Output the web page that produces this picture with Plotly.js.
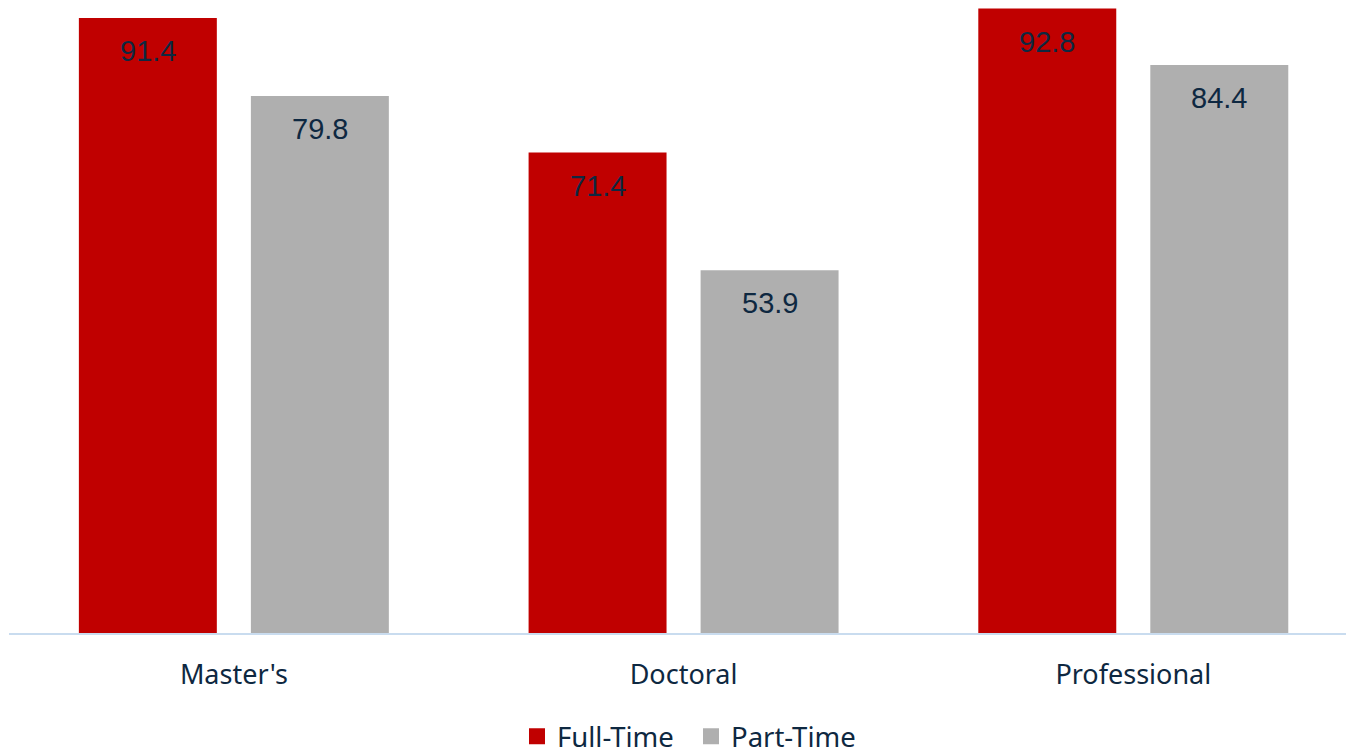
<!DOCTYPE html>
<html>
<head>
<meta charset="utf-8">
<script src="https://cdn.plot.ly/plotly-3.0.1.min.js"></script>
<style>html,body{margin:0;padding:0;background:#fff;}#chart{width:1346px;height:749px;}</style>
</head>
<body>
<div id="chart"></div>
<script>
const categories = ["Master's", "Doctoral", "Professional"];
const fullTime = [91.4, 71.4, 92.8];
const partTime = [79.8, 53.9, 84.4];
const seriesNames = ["Full-Time", "Part-Time"];
const seriesColors = ['#c00000', '#afafaf'];

const textColor = '#0e2841';
const bargap = 0.235;
const offset = (1 - bargap) / 4;

const traces = [
  {type: 'bar', name: seriesNames[0], x: categories, y: fullTime,
   marker: {color: seriesColors[0]}, showlegend: false},
  {type: 'bar', name: seriesNames[1], x: categories, y: partTime,
   marker: {color: seriesColors[1]}, showlegend: false},
  // legend entries with larger square swatches
  {type: 'scatter', mode: 'markers', name: seriesNames[0], x: [null], y: [null],
   marker: {symbol: 'square', size: 18, color: seriesColors[0]}},
  {type: 'scatter', mode: 'markers', name: seriesNames[1], x: [null], y: [null],
   marker: {symbol: 'square', size: 18, color: seriesColors[1]}}
];

const annotations = [];
[fullTime, partTime].forEach((vals, s) => {
  vals.forEach((v, i) => {
    annotations.push({
      x: i + (s === 0 ? -offset : offset), y: v, xref: 'x', yref: 'y',
      text: v.toFixed(1), showarrow: false, yanchor: 'middle', yshift: -33,
      font: {family: 'Liberation Sans, Arial, sans-serif', size: 29, color: textColor}
    });
  });
});

const layout = {
  width: 1346, height: 749,
  margin: {l: 9, r: 0, t: 0, b: 116},
  paper_bgcolor: '#ffffff', plot_bgcolor: '#ffffff',
  barmode: 'group', bargap: bargap, bargroupgap: 0.198,
  xaxis: {type: 'category', range: [-0.5, 2.473], showline: true, linecolor: '#c9dcef', linewidth: 2,
          ticks: '', showgrid: false, zeroline: false, automargin: false, ticklabelstandoff: 17,
          tickfont: {family: 'Noto Sans, sans-serif', size: 27, color: textColor}},
  yaxis: {range: [0, 94.07], visible: false, showgrid: false, zeroline: false, automargin: false},
  showlegend: true,
  legend: {orientation: 'h', x: 0.3841, xanchor: 'left', xref: 'container', yref: 'container',
           y: 0.017, yanchor: 'middle', itemwidth: 30, entrywidth: 129,
           font: {family: 'Noto Sans, sans-serif', size: 27.5, color: textColor}},
  annotations: annotations
};

Plotly.newPlot('chart', traces, layout, {displayModeBar: false, staticPlot: true});
</script>
</body>
</html>
